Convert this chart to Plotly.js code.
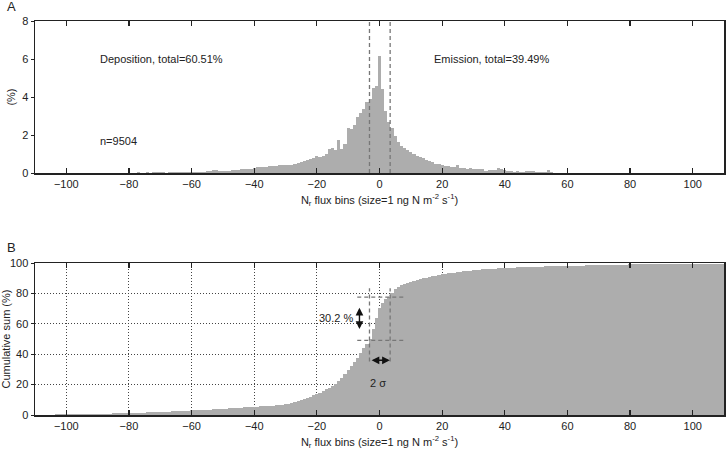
<!DOCTYPE html>
<html>
<head>
<meta charset="utf-8">
<script src="https://cdn.plot.ly/plotly-3.0.1.min.js"></script>
<style>
  html, body { margin: 0; padding: 0; background: #fff; }
  #chart { width: 726px; height: 460px; }
</style>
</head>
<body>
<div id="chart"></div>
<script>
// bins are 1 ng N m-2 s-1 wide, first bin centred on -110
var bin_start = -110
var bin_size = 1

// share of samples in each bin (%), bins -110 .. 110
var freq_pct = [
  0, 0, 0.01, 0, 0, 0.01, 0, 0, 0.02, 0,                          // -110..-101
  0.01, 0, 0.01, 0.02, 0, 0.01, 0.02, 0, 0.01, 0.02,              // -100..-91
  0.02, 0.01, 0.02, 0, 0.02, 0.03, 0.01, 0.02, 0.03, 0.02,        // -90..-81
  0.03, 0.02, 0.03, 0.04, 0.02, 0.03, 0.04, 0.03, 0.05, 0.04,     // -80..-71
  0.04, 0.05, 0.03, 0.05, 0.06, 0.04, 0.05, 0.06, 0.05, 0.06,     // -70..-61
  0.05, 0.06, 0.06, 0.07, 0.08, 0.09, 0.10, 0.15, 0.17, 0.10,     // -60..-51
  0.09, 0.09, 0.10, 0.17, 0.15, 0.17, 0.20, 0.19, 0.20, 0.22,     // -50..-41
  0.28, 0.31, 0.30, 0.31, 0.33, 0.35, 0.38, 0.38, 0.42, 0.44,     // -40..-31
  0.42, 0.45, 0.40, 0.47, 0.55, 0.58, 0.62, 0.68, 0.75, 0.80,     // -30..-21
  0.90, 0.85, 0.92, 1.02, 1.25, 1.30, 1.22, 1.75, 1.27, 1.55,     // -20..-11
  2.36, 2.30, 2.53, 2.97, 3.14, 3.35, 3.75, 3.88, 4.50, 4.58,     // -10..-1
  6.15,                                                           // 0
  4.40, 3.25, 2.70, 2.36, 1.93, 1.66, 1.43, 1.30, 1.24, 1.10,     // 1..10
  1.03, 0.92, 0.85, 0.78, 0.70, 0.62, 0.58, 0.50, 0.48, 0.45,     // 11..20
  0.38, 0.36, 0.34, 0.33, 0.44, 0.27, 0.26, 0.24, 0.25, 0.22,     // 21..30
  0.24, 0.20, 0.22, 0.12, 0.16, 0.18, 0.15, 0.26, 0.24, 0.14,     // 31..40
  0.09, 0.10, 0.08, 0.09, 0.06, 0.05, 0.12, 0.11, 0.12, 0.08,     // 41..50
  0.05, 0.04, 0.05, 0.14, 0.04, 0.03, 0.03, 0.02, 0.03, 0.02,     // 51..60
  0.02, 0.01, 0.02, 0.01, 0.02, 0.01, 0, 0.01, 0.02, 0.01,        // 61..70
  0.02, 0.01, 0, 0.01, 0.01, 0, 0.01, 0, 0.01, 0,                 // 71..80
  0.01, 0, 0, 0.01, 0, 0, 0.01, 0, 0, 0.01,                       // 81..90
  0, 0, 0.01, 0, 0, 0, 0.01, 0, 0, 0,                             // 91..100
  0, 0.01, 0, 0, 0, 0, 0, 0.01, 0, 0                              // 101..110
]

// cumulative sum (%), same bins
var cum_pct = [
  0.2, 0.2, 0.2, 0.25, 0.25, 0.3, 0.3, 0.35, 0.35, 0.4,           // -110..-101
  0.45, 0.45, 0.5, 0.5, 0.55, 0.6, 0.65, 0.7, 0.7, 0.75,          // -100..-91
  0.8, 0.85, 0.9, 0.9, 0.95, 1.0, 1.05, 1.1, 1.15, 1.2,           // -90..-81
  1.3, 1.35, 1.4, 1.45, 1.5, 1.6, 1.65, 1.75, 1.8, 1.9,           // -80..-71
  2.0, 2.1, 2.2, 2.3, 2.4, 2.5, 2.6, 2.7, 2.8, 2.9,               // -70..-61
  3.0, 3.1, 3.2, 3.3, 3.4, 3.5, 3.6, 3.7, 3.8, 3.95,              // -60..-51
  4.1, 4.2, 4.3, 4.45, 4.6, 4.7, 4.85, 5.0, 5.1, 5.2,             // -50..-41
  5.3, 5.45, 5.6, 5.75, 5.9, 6.05, 6.2, 6.4, 6.6, 6.8,            // -40..-31
  7.0, 7.5, 8.1, 8.7, 9.3, 10.0, 10.7, 11.4, 12.1, 12.9,          // -30..-21
  13.6, 14.7, 15.8, 16.9, 18.0, 19.1, 20.6, 22.4, 24.6, 26.8,     // -20..-11
  29.4, 32.2, 35.0, 37.7, 41.0, 44.3, 46.5, 49.8, 56.4, 64.0,     // -10..-1
  70.6,                                                           // 0
  73.9, 76.1, 77.6, 80.5, 83.1, 84.4, 85.5, 86.3, 87.0, 87.7,     // 1..10
  88.3, 88.9, 89.5, 90.0, 90.5, 91.0, 91.4, 91.8, 92.2, 92.6,     // 11..20
  92.9, 93.2, 93.5, 93.8, 94.1, 94.4, 94.6, 94.9, 95.1, 95.3,     // 21..30
  95.5, 95.7, 95.9, 96.0, 96.2, 96.3, 96.4, 96.6, 96.7, 96.8,     // 31..40
  96.9, 97.0, 97.1, 97.2, 97.3, 97.3, 97.4, 97.5, 97.6, 97.6,     // 41..50
  97.7, 97.7, 97.8, 97.9, 97.9, 98.0, 98.0, 98.1, 98.1, 98.2,     // 51..60
  98.2, 98.3, 98.3, 98.4, 98.4, 98.5, 98.5, 98.6, 98.6, 98.7,     // 61..70
  98.7, 98.7, 98.8, 98.8, 98.9, 98.9, 98.9, 99.0, 99.0, 99.1,     // 71..80
  99.1, 99.1, 99.2, 99.2, 99.2, 99.3, 99.3, 99.3, 99.3, 99.4,     // 81..90
  99.4, 99.4, 99.4, 99.4, 99.5, 99.5, 99.5, 99.5, 99.5, 99.5,     // 91..100
  99.5, 99.6, 99.6, 99.6, 99.6, 99.6, 99.6, 99.6, 99.6, 99.6      // 101..110
]

// +/- one sigma around zero and the cumulative sums there
var sigma_bounds = [-3.2, 3.4]
var cum_at_sigma = [49.1, 77.6]

var x_ticks = [-100, -80, -60, -40, -20, 0, 20, 40, 60, 80, 100]
var y1_ticks = [0, 2, 4, 6, 8]
var y2_ticks = [0, 20, 40, 60, 80, 100]

var x_title = 'N<sub>r</sub> flux bins (size=1 ng N m<sup>-2</sup> s<sup>-1</sup>)'

var ink = '#222'
var bar_grey = '#adadad'
var dash_grey = '#777'
var base_font = {family: 'Liberation Sans, Arial, sans-serif', size: 11, color: ink}

var traces = [
    {
        type: 'bar', x0: bin_start, dx: bin_size, y: freq_pct,
        xaxis: 'x', yaxis: 'y',
        marker: {color: bar_grey, line: {width: 0}},
        hoverinfo: 'skip'
    },
    {
        type: 'bar', x0: bin_start, dx: bin_size, y: cum_pct,
        xaxis: 'x2', yaxis: 'y2',
        marker: {color: bar_grey, line: {width: 0}},
        hoverinfo: 'skip'
    }
]

function x_axis(anchor, grid){
    return {
        anchor: anchor, domain: [0, 1], range: [-110, 110],
        tickvals: x_ticks, ticks: 'inside', ticklen: 5, tickwidth: 1.2, tickcolor: ink,
        showline: true, linecolor: ink, linewidth: 1.5, mirror: 'ticks',
        showgrid: grid, gridcolor: '#444', griddash: '1px,2px', gridwidth: 1,
        zeroline: false,
        title: {text: x_title, font: {size: 11, color: ink}, standoff: 7}
    }
}

function y_axis(anchor, domain, range, ticks, title, grid){
    return {
        anchor: anchor, domain: domain, range: range,
        tickvals: ticks, ticks: 'outside', ticklen: 3, tickcolor: ink,
        showline: true, linecolor: ink, linewidth: 1.5, mirror: true,
        showgrid: grid, gridcolor: '#444', griddash: '1px,2px', gridwidth: 1,
        zeroline: false,
        title: {text: title, font: {size: 11, color: ink}, standoff: 4}
    }
}

var dash_line = {color: dash_grey, width: 1.3, dash: '4px,3px'}

var shapes = [
    // panel A: sigma limits
    {type: 'line', xref: 'x', yref: 'y', x0: sigma_bounds[0], x1: sigma_bounds[0], y0: 0, y1: 8, line: dash_line},
    {type: 'line', xref: 'x', yref: 'y', x0: sigma_bounds[1], x1: sigma_bounds[1], y0: 0, y1: 8, line: dash_line},
    // panel B: sigma limits and cumulative sums at them
    {type: 'line', xref: 'x2', yref: 'y2', x0: sigma_bounds[0], x1: sigma_bounds[0], y0: 35.3, y1: 83.5, line: dash_line},
    {type: 'line', xref: 'x2', yref: 'y2', x0: sigma_bounds[1], x1: sigma_bounds[1], y0: 35.3, y1: 83.5, line: dash_line},
    {type: 'line', xref: 'x2', yref: 'y2', x0: -7.1, x1: 8.3, y0: cum_at_sigma[0], y1: cum_at_sigma[0], line: dash_line},
    {type: 'line', xref: 'x2', yref: 'y2', x0: -7.1, x1: 8.3, y0: cum_at_sigma[1], y1: cum_at_sigma[1], line: dash_line}
]

function label(text, x, y, xref, yref, extra){
    var a = {text: text, x: x, y: y, xref: xref, yref: yref, showarrow: false,
             xanchor: 'left', yanchor: 'middle', font: base_font}
    for (const k in extra) a[k] = extra[k]
    return a
}

function double_arrow(x0, y0, x1, y1){
    return {
        text: '', x: x1, y: y1, ax: x0, ay: y0,
        xref: 'x2', yref: 'y2', axref: 'x2', ayref: 'y2',
        showarrow: true, arrowside: 'end+start', arrowhead: 2, startarrowhead: 2,
        arrowsize: 1.1, startarrowsize: 1.1, arrowwidth: 1.4, arrowcolor: '#111',
        standoff: 0, startstandoff: 0
    }
}

var annotations = [
    label('A', -0.044, 1.038, 'paper', 'paper', {font: {family: base_font.family, size: 13, color: ink}}),
    label('B', -0.044, 0.424, 'paper', 'paper', {font: {family: base_font.family, size: 13, color: ink}}),
    label('Deposition, total=60.51%', -90, 6.0, 'x', 'y'),
    label('Emission, total=39.49%', 16.8, 6.0, 'x', 'y'),
    label('n=9504', -90, 1.7, 'x', 'y'),
    label('30.2 %', -14, 63.6, 'x2', 'y2', {xanchor: 'center'}),
    label('2 \u03c3', -0.6, 21.3, 'x2', 'y2', {xanchor: 'center'}),
    double_arrow(-3.0, 36, 3.3, 36),
    double_arrow(-6.4, 55.7, -6.4, 70.6)
]

var layout = {
    width: 726, height: 460,
    margin: {l: 35, r: 2, t: 21, b: 45},
    paper_bgcolor: 'white', plot_bgcolor: 'white',
    font: base_font,
    showlegend: false,
    bargap: 0,
    xaxis: x_axis('y', false),
    yaxis: y_axis('x', [0.614, 1], [0, 8], y1_ticks, '(%)', false),
    xaxis2: x_axis('y2', true),
    yaxis2: y_axis('x2', [0, 0.3855], [0, 100], y2_ticks, 'Cumulative sum (%)', true),
    shapes: shapes,
    annotations: annotations
}

Plotly.newPlot('chart', traces, layout, {displayModeBar: false, staticPlot: true})
</script>
</body>
</html>
